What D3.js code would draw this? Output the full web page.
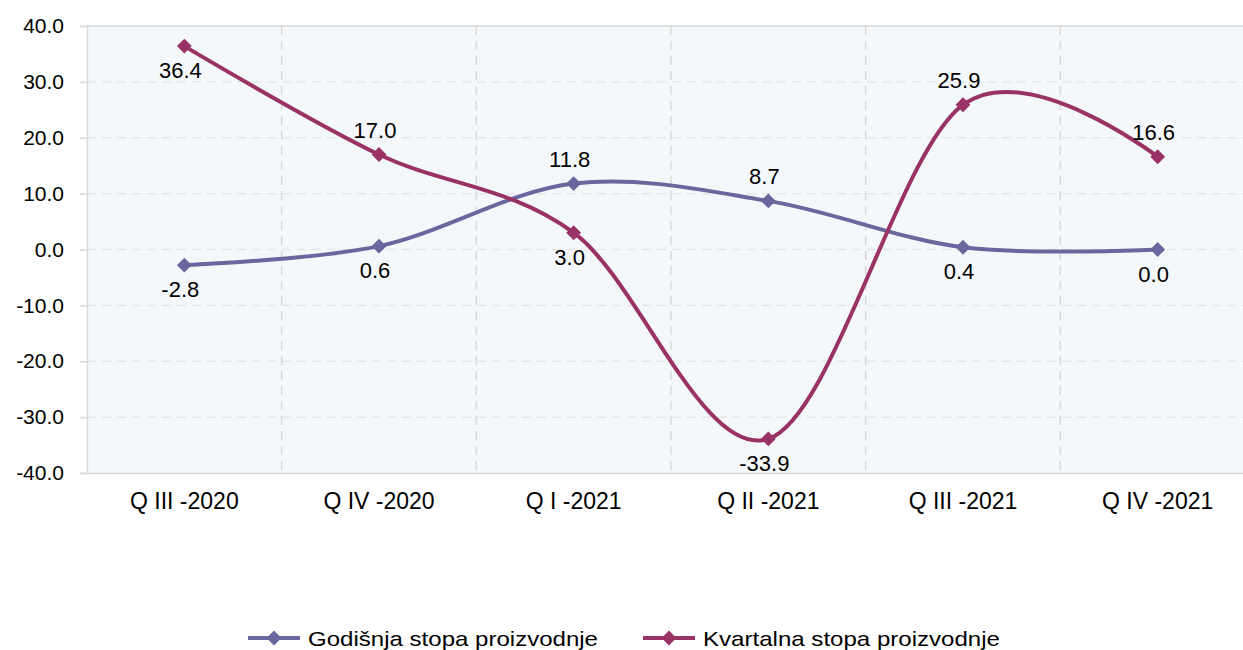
<!DOCTYPE html>
<html>
<head>
<meta charset="utf-8">
<style>
body { margin: 0; background: #fff; }
text { font-family: "Liberation Sans", Arial, sans-serif; fill: #000; }
</style>
</head>
<body>
<svg id="chart" width="1243" height="650"></svg>
<script src="https://cdn.jsdelivr.net/npm/d3@7"></script>
<script>
// data
var quarters = ["Q III -2020", "Q IV -2020", "Q I -2021", "Q II -2021", "Q III -2021", "Q IV -2021"];
var godisnja = [-2.8, 0.6, 11.8, 8.7, 0.4, 0.0];
var kvartalna = [36.4, 17.0, 3.0, -33.9, 25.9, 16.6];
// label above (true) or below (false) the point
var godPos = [false, false, true, true, false, false];
var kvaPos = [false, true, false, false, true, true];
var yTicks = [-40, -30, -20, -10, 0, 10, 20, 30, 40];

var series = [
  {name: "Godišnja stopa proizvodnje", values: godisnja, up: godPos, color: "#68689e"},
  {name: "Kvartalna stopa proizvodnje", values: kvartalna, up: kvaPos, color: "#993366"}
];

var svg = d3.select("#chart");
// note: "top" is taken by window.top, so use plotTop
var plotLeft = 87, plotTop = 26, plotW = 1168, plotH = 447;

var x = d3.scaleBand().domain(quarters).range([plotLeft, plotLeft + plotW]);
var y = d3.scaleLinear().domain([-40, 40]).range([plotTop + plotH, plotTop]);

// number format with a plain hyphen like the original
var fmt = d => d3.format(".1f")(d).replace("\u2212", "-");

// plot background
svg.append("rect")
  .attr("x", plotLeft).attr("y", plotTop).attr("width", plotW).attr("height", plotH)
  .attr("fill", "#f5f8fb");

// horizontal grid
svg.selectAll(".hgrid")
  .data(yTicks.filter(d => d != -40 && d != 40))
  .enter().append("line")
  .attr("x1", plotLeft).attr("x2", plotLeft + plotW)
  .attr("y1", d => y(d)).attr("y2", d => y(d))
  .attr("stroke", "#e6e6e6").attr("stroke-width", 1.5)
  .attr("stroke-dasharray", "9,6");

// vertical grid between categories
svg.selectAll(".vgrid")
  .data(quarters.slice(1))
  .enter().append("line")
  .attr("x1", d => x(d)).attr("x2", d => x(d))
  .attr("y1", plotTop).attr("y2", plotTop + plotH)
  .attr("stroke", "#d9d9d9").attr("stroke-width", 1.5)
  .attr("stroke-dasharray", "9,6");

// top border
svg.append("line")
  .attr("x1", plotLeft).attr("x2", plotLeft + plotW)
  .attr("y1", plotTop).attr("y2", plotTop)
  .attr("stroke", "#d9d9d9").attr("stroke-width", 1.5);

// y axis
var yAxis = svg.append("g")
  .attr("transform", "translate(" + plotLeft + ",0)")
  .call(d3.axisLeft(y).tickValues(yTicks).tickFormat(fmt).tickSize(7).tickPadding(16));
yAxis.select(".domain").attr("stroke", "#d9d9d9").attr("stroke-width", 1.5);
yAxis.selectAll(".tick line").attr("stroke", "#d9d9d9").attr("stroke-width", 1.5);
yAxis.selectAll(".tick text").attr("font-size", 21).attr("font-family", "Liberation Sans, Arial, sans-serif").attr("fill", "#000");

// x axis
var xAxis = svg.append("g")
  .attr("transform", "translate(0," + (plotTop + plotH) + ")")
  .call(d3.axisBottom(x).tickSize(0).tickPadding(20));
xAxis.select(".domain").attr("stroke", "#d9d9d9").attr("stroke-width", 1.5);
xAxis.selectAll(".tick text").attr("font-size", 23).attr("font-family", "Liberation Sans, Arial, sans-serif").attr("fill", "#000");

var cx = d => x(d) + x.bandwidth() / 2;

var line = d3.line()
  .x((d, i) => cx(quarters[i]))
  .y(d => y(d))
  .curve(d3.curveCardinal.tension(0));

var diamond = d3.symbol().type(d3.symbolSquare).size(110);

series.forEach(function (s) {
  var g = svg.append("g");
  g.append("path")
    .datum(s.values)
    .attr("d", line)
    .attr("fill", "none")
    .attr("stroke", s.color)
    .attr("stroke-width", 4);
  g.selectAll(".pt")
    .data(s.values)
    .enter().append("path")
    .attr("d", diamond)
    .attr("transform", (d, i) => "translate(" + cx(quarters[i]) + "," + y(d) + ") rotate(45)")
    .attr("fill", s.color);
  g.selectAll(".lbl")
    .data(s.values)
    .enter().append("text")
    .attr("x", (d, i) => cx(quarters[i]) - 4)
    .attr("y", (d, i) => s.up[i] ? y(d) - 17 : y(d) + 32)
    .attr("text-anchor", "middle")
    .attr("font-size", 22)
    .text(fmt);
});

// legend
var legend = svg.append("g").attr("transform", "translate(0,638)");
var legX = [248, 643];
series.forEach(function (s, i) {
  var lg = legend.append("g").attr("transform", "translate(" + legX[i] + ",0)");
  lg.append("line").attr("x1", 0).attr("x2", 52).attr("y1", 0).attr("y2", 0)
    .attr("stroke", s.color).attr("stroke-width", 4);
  lg.append("path").attr("d", diamond).attr("transform", "translate(26,0) rotate(45)")
    .attr("fill", s.color);
  lg.append("text").attr("x", 60).attr("y", 8).attr("font-size", 21)
    .attr("textLength", i == 0 ? 290 : 297).attr("lengthAdjust", "spacingAndGlyphs")
    .text(s.name);
});
</script>
</body>
</html>
